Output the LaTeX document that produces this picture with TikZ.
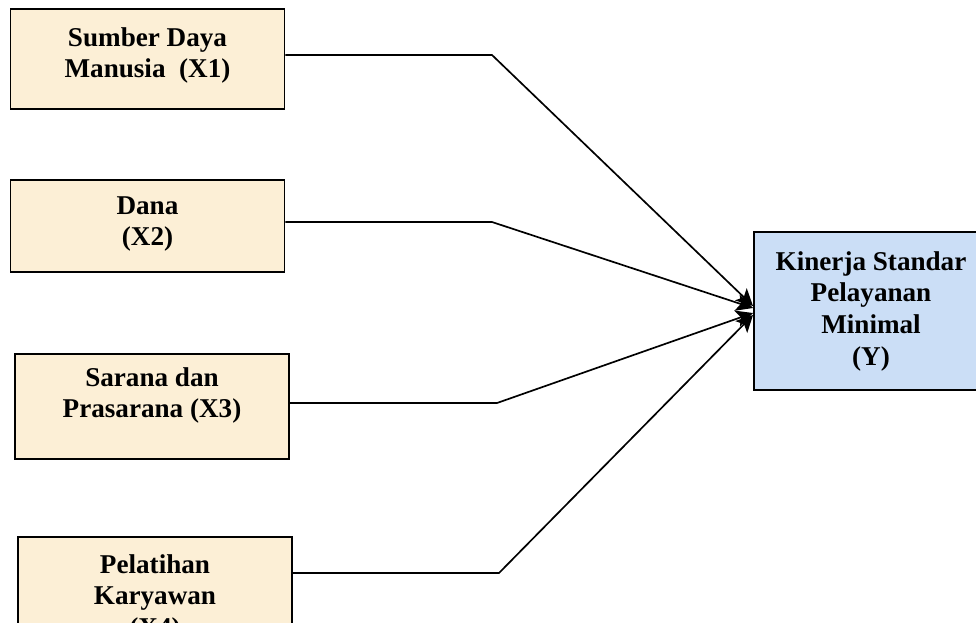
\documentclass[tikz,border=0pt]{standalone}
\usepackage{fontspec}
\setmainfont{Liberation Serif}
\usetikzlibrary{arrows.meta}
\usetikzlibrary{math}
\definecolor{mycream}{RGB}{252,239,214}
\definecolor{myblue}{RGB}{203,222,246}

\begin{document}
\begin{tikzpicture}[
  varbox/.style={draw, line width=1.4pt, fill=mycream, inner sep=0pt},
  lbl/.style={align=center, inner sep=0pt, anchor=north, font=\fontsize{19.3}{22.5}\selectfont\bfseries},
  link/.style={line width=1.2pt, -{Stealth[length=4.2mm,width=4.2mm,inset=1mm]}}
]
\tikzmath{
\W=6.85;
\bx=12.3;
}

\useasboundingbox (0,0) rectangle (24.4,-15.55);
\clip (0,0) rectangle (24.4,-15.55);

\node[varbox, minimum width=\W cm, minimum height=2.5cm] (x1) at (3.6875,-1.475) {};
\node[varbox, minimum width=\W cm, minimum height=2.3cm] (x2) at (3.6875,-5.65) {};
\node[varbox, minimum width=\W cm, minimum height=2.625cm] (x3) at (3.8,-10.1625) {};
\node[varbox, minimum width=\W cm, minimum height=3.1cm] (x4) at (3.875,-14.975) {};
\node[varbox, fill=myblue, minimum width=5.85cm, minimum height=3.95cm] (y) at (21.775,-7.775) {};

\node[lbl] (t1) at ([yshift=-0.475cm]x1.north) {Sumber Daya\\Manusia~~(X1)};
\node[lbl] (t2) at ([yshift=-0.425cm]x2.north) {Dana\\(X2)};
\node[lbl] (t3) at ([yshift=-0.35cm]x3.north) {Sarana dan\\Prasarana (X3)};
\node[lbl] (t4) at ([yshift=-0.45cm]x4.north) {Pelatihan\\Karyawan\\(X4)};
\node[lbl] (ty) at ([yshift=-0.5cm]y.north) {Kinerja Standar\\Pelayanan\\Minimal\\(Y)};

\coordinate (b1) at (\bx,-1.375);
\coordinate (b2) at (\bx,-5.55);
\coordinate (b3) at (\bx+0.125,-10.075);
\coordinate (b4) at (\bx+0.175,-14.325);

\draw[link] (x1.east |- b1) -- (b1) -- ([yshift=0.125cm]y.west);
\draw[link] (x2.east |- b2) -- (b2) -- ([yshift=0.075cm]y.west);
\draw[link] (x3.east |- b3) -- (b3) -- ([yshift=-0.05cm]y.west);
\draw[link] (x4.east |- b4) -- (b4) -- ([yshift=-0.1cm]y.west);

\end{tikzpicture}
\end{document}
